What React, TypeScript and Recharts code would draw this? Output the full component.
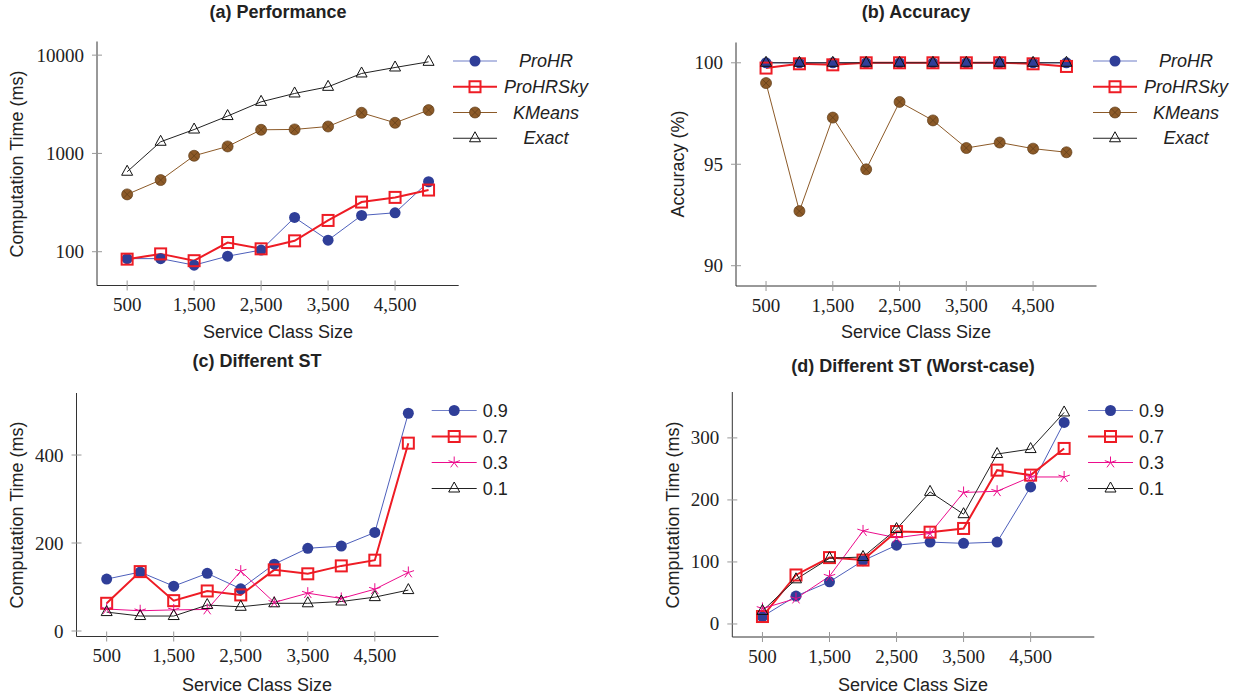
import React from 'react';
import { Legend, Line, LineChart, XAxis, YAxis } from 'recharts';

const sizes = [500, 1000, 1500, 2000, 2500, 3000, 3500, 4000, 4500, 5000];
const sizeTicks = [500, 1500, 2500, 3500, 4500];

// (a) Performance (ms, log axis)
const perfProHR = [85, 85, 73, 90, 104, 223, 131, 234, 249, 515];
const perfProHRSky = [84, 95, 81, 124, 107, 129, 208, 320, 357, 424];
const perfKMeans = [383, 536, 947, 1178, 1740, 1755, 1880, 2592, 2050, 2759];
const perfExact = [651, 1314, 1750, 2400, 3350, 4075, 4760, 6510, 7490, 8550];

// (b) Accuracy (%)
const accProHR = [100, 100, 100, 100, 100, 100, 100, 100, 100, 100];
const accProHRSky = [99.74, 99.95, 99.9, 100, 100, 100, 100, 100, 99.95, 99.82];
const accKMeans = [99.0, 92.69, 97.3, 94.75, 98.07, 97.16, 95.8, 96.07, 95.77, 95.59];
const accExact = [100, 100, 100, 100, 100, 100, 100, 100, 100, 100];

// (c) Different ST (ms)
const st09 = [118, 134, 102, 131, 96, 152, 188, 193, 224, 495];
const st07 = [63, 135, 69, 91, 82, 139, 130, 148, 161, 427];
const st03 = [50, 46, 48, 49, 136, 65, 86, 74, 95, 133];
const st01 = [43, 34, 34, 59, 55, 63, 63, 67, 77, 93];

// (d) Different ST, worst case (ms)
const worst09 = [12, 45, 68, 102, 127, 132, 130, 132, 221, 325];
const worst07 = [12, 79, 107, 103, 149, 148, 154, 248, 240, 283];
const worst03 = [25, 41, 77, 150, 139, 146, 212, 214, 237, 237];
const worst01 = [21, 72, 106, 108, 153, 213, 177, 274, 282, 341];

const SANS = '"Liberation Sans", Arial, Helvetica, sans-serif';
const SERIF = '"Liberation Serif", "Times New Roman", serif';
const TEXT = '#222';
const AXIS = '#333';
const TICK = '#999';

const BLUE_LINE = '#4d5fbb';
const BLUE_FILL = '#2f3e98';
const RED = '#ee1c25';
const BROWN = '#8c5a28';
const BROWN_DARK = '#5e3c18';
const BLACK = '#222';
const PINK = '#ec0c8c';

type Kind = 'circle' | 'square' | 'otimes' | 'triangle' | 'star';

interface Series {
  key: string;
  name: string;
  kind: Kind;
  stroke: string;
  width: number;
  fill: string;
  values: number[];
}

const Marker = ({ kind, cx, cy, stroke, fill }: { kind: Kind; cx: number; cy: number; stroke: string; fill: string }) => {
  if (kind === 'circle') return <circle cx={cx} cy={cy} r={5.5} fill={fill} />;
  if (kind === 'square')
    return <rect x={cx - 5.5} y={cy - 5.5} width={11} height={11} fill="none" stroke={stroke} strokeWidth={2} />;
  if (kind === 'otimes') {
    const d = 3.9;
    return (
      <g>
        <circle cx={cx} cy={cy} r={5.5} fill={fill} stroke={BROWN_DARK} strokeWidth={0.7} />
        <line x1={cx - d} y1={cy - d} x2={cx + d} y2={cy + d} stroke={BROWN_DARK} strokeWidth={0.7} />
        <line x1={cx - d} y1={cy + d} x2={cx + d} y2={cy - d} stroke={BROWN_DARK} strokeWidth={0.7} />
      </g>
    );
  }
  if (kind === 'triangle')
    return (
      <polygon
        points={`${cx},${cy - 6.5} ${cx - 5.5},${cy + 3.5} ${cx + 5.5},${cy + 3.5}`}
        fill="none"
        stroke="#111"
        strokeWidth={1}
      />
    );
  const arms = [0, 1, 2, 3, 4].map((k) => {
    const a = ((-90 + 72 * k) * Math.PI) / 180;
    return <line key={k} x1={cx} y1={cy} x2={cx + 6 * Math.cos(a)} y2={cy + 6 * Math.sin(a)} stroke={stroke} strokeWidth={1} />;
  });
  return <g>{arms}</g>;
};

const fmtSize = (v: number) => (v >= 1000 ? `${Math.floor(v / 1000)},${String(v % 1000).padStart(3, '0')}` : String(v));

const XTick = (props: any) => {
  const { x, y, payload } = props;
  return (
    <g>
      <line x1={x} x2={x} y1={y - 5} y2={y + 5} stroke={TICK} />
      <text x={x} y={y + 19} textAnchor="middle" dominantBaseline="central" fontFamily={SERIF} fontSize={19} fill={TEXT}>
        {fmtSize(payload.value)}
      </text>
    </g>
  );
};

const YTick = (props: any) => {
  const { x, y, payload } = props;
  return (
    <g>
      <line x1={x - 5} x2={x + 5} y1={y} y2={y} stroke={TICK} />
      <text x={x - 13} y={y} textAnchor="end" dominantBaseline="central" fontFamily={SERIF} fontSize={19} fill={TEXT}>
        {String(payload.value)}
      </text>
    </g>
  );
};

interface LegendCfg {
  left: number;
  top: number;
  lineX0: number;
  lineX1: number;
  textX: number;
  anchor: 'start' | 'middle';
  rowY0: number;
  rowStep: number;
  italic: boolean;
}

const LegendBox = ({ series, cfg }: { series: Series[]; cfg: LegendCfg }) => (
  <svg width={170} height={115} style={{ display: 'block' }}>
    {series.map((s, i) => {
      const y = cfg.rowY0 + i * cfg.rowStep;
      const mx = (cfg.lineX0 + cfg.lineX1) / 2;
      return (
        <g key={s.key}>
          <line x1={cfg.lineX0} x2={cfg.lineX1} y1={y} y2={y} stroke={s.stroke} strokeWidth={s.width} opacity={s.kind === 'circle' ? 0.8 : 1} />
          <Marker kind={s.kind} cx={mx} cy={y} stroke={s.stroke} fill={s.fill} />
          <text
            x={cfg.textX}
            y={y}
            textAnchor={cfg.anchor}
            dominantBaseline="central"
            fontFamily={SANS}
            fontSize={18}
            fontStyle={cfg.italic ? 'italic' : 'normal'}
            fill={TEXT}
          >
            {s.name}
          </text>
        </g>
      );
    })}
  </svg>
);

interface PanelProps {
  left: number;
  top: number;
  width: number;
  height: number;
  plot: { x0: number; x1: number; y0: number; y1: number };
  series: Series[];
  yDomain: [number, number];
  yTicks: number[];
  yLog?: boolean;
  legend: LegendCfg;
}

const Panel = ({ left, top, width, height, plot, series, yDomain, yTicks, yLog, legend }: PanelProps) => {
  const data = sizes.map((size, i) => {
    const row: Record<string, number> = { size };
    series.forEach((s) => {
      row[s.key] = s.values[i];
    });
    return row;
  });
  return (
    <div style={{ position: 'absolute', left, top, width, height }}>
      <LineChart
        width={width}
        height={height}
        data={data}
        margin={{ top: plot.y0 - top, right: left + width - plot.x1, bottom: 0, left: 0 }}
      >
        <XAxis
          type="number"
          dataKey="size"
          domain={[50, 5450]}
          ticks={sizeTicks}
          interval={0}
          tick={XTick}
          tickLine={false}
          tickSize={0}
          tickMargin={0}
          axisLine={{ stroke: AXIS }}
          height={top + height - plot.y1}
          allowDataOverflow
        />
        <YAxis
          type="number"
          scale={yLog ? 'log' : 'linear'}
          domain={yDomain}
          ticks={yTicks}
          interval={0}
          tick={YTick}
          tickLine={false}
          tickSize={0}
          tickMargin={0}
          axisLine={{ stroke: AXIS }}
          width={plot.x0 - left}
          allowDataOverflow
        />
        {series.map((s) => (
          <Line
            key={s.key}
            type="linear"
            dataKey={s.key}
            name={s.name}
            stroke={s.stroke}
            strokeWidth={s.width}
            activeDot={false}
            isAnimationActive={false}
            dot={(p: any) => (
              <g key={`${s.key}-${p.index}`}>
                <Marker kind={s.kind} cx={p.cx} cy={p.cy} stroke={s.stroke} fill={s.fill} />
              </g>
            )}
          />
        ))}
        <Legend
          layout="vertical"
          align="center"
          verticalAlign="middle"
          wrapperStyle={{ left: legend.left, top: legend.top, width: 170, height: 115 }}
          content={() => <LegendBox series={series} cfg={legend} />}
        />
      </LineChart>
    </div>
  );
};

const Title = ({ text, cx, cy }: { text: string; cx: number; cy: number }) => (
  <div
    style={{
      position: 'absolute',
      left: cx - 250,
      top: cy - 11,
      width: 500,
      lineHeight: '22px',
      textAlign: 'center',
      fontFamily: SANS,
      fontWeight: 'bold',
      fontSize: 18,
      color: TEXT,
    }}
  >
    {text}
  </div>
);

const AxisText = ({ text, cx, cy, rotate }: { text: string; cx: number; cy: number; rotate?: boolean }) => (
  <div
    style={{
      position: 'absolute',
      left: cx,
      top: cy,
      whiteSpace: 'nowrap',
      transform: `translate(-50%, -50%)${rotate ? ' rotate(-90deg)' : ''}`,
      fontFamily: SANS,
      fontSize: 18,
      lineHeight: '22px',
      color: TEXT,
    }}
  >
    {text}
  </div>
);

const topSeries = (a: number[], b: number[], c: number[], d: number[]): Series[] => [
  { key: 'prohr', name: 'ProHR', kind: 'circle', stroke: BLUE_LINE, width: 1, fill: BLUE_FILL, values: a },
  { key: 'prohrsky', name: 'ProHRSky', kind: 'square', stroke: RED, width: 2, fill: 'none', values: b },
  { key: 'kmeans', name: 'KMeans', kind: 'otimes', stroke: BROWN, width: 1, fill: BROWN, values: c },
  { key: 'exact', name: 'Exact', kind: 'triangle', stroke: BLACK, width: 1, fill: 'none', values: d },
];

const stSeries = (a: number[], b: number[], c: number[], d: number[]): Series[] => [
  { key: 'st09', name: '0.9', kind: 'circle', stroke: BLUE_LINE, width: 1, fill: BLUE_FILL, values: a },
  { key: 'st07', name: '0.7', kind: 'square', stroke: RED, width: 2, fill: 'none', values: b },
  { key: 'st03', name: '0.3', kind: 'star', stroke: PINK, width: 1, fill: 'none', values: c },
  { key: 'st01', name: '0.1', kind: 'triangle', stroke: BLACK, width: 1, fill: 'none', values: d },
];

const topLegend = (left: number): LegendCfg => ({
  left,
  top: 45,
  lineX0: 8,
  lineX1: 52,
  textX: 101,
  anchor: 'middle',
  rowY0: 16,
  rowStep: 25.75,
  italic: true,
});

const stLegend = (left: number, lineX0: number): LegendCfg => ({
  left,
  top: 45,
  lineX0,
  lineX1: lineX0 + 45,
  textX: lineX0 + 51,
  anchor: 'start',
  rowY0: 16.5,
  rowStep: 26,
  italic: false,
});

const App: React.FC = () => {
  return (
    <div style={{ position: 'absolute', left: 0, top: 0, width: 1233, height: 698, background: '#fff', overflow: 'hidden' }}>
      <Panel
        left={0}
        top={0}
        width={616}
        height={349}
        plot={{ x0: 97, x1: 458.7, y0: 41.5, y1: 285.5 }}
        series={topSeries(perfProHR, perfProHRSky, perfKMeans, perfExact)}
        yDomain={[45.3, 13770]}
        yTicks={[100, 1000, 10000]}
        yLog
        legend={topLegend(445)}
      />
      <Panel
        left={616}
        top={0}
        width={617}
        height={349}
        plot={{ x0: 736, x1: 1096.5, y0: 42.5, y1: 286 }}
        series={topSeries(accProHR, accProHRSky, accKMeans, accExact)}
        yDomain={[89, 101]}
        yTicks={[90, 95, 100]}
        legend={topLegend(469)}
      />
      <Panel
        left={0}
        top={349}
        width={616}
        height={349}
        plot={{ x0: 76.5, x1: 438.5, y0: 393, y1: 636.5 }}
        series={stSeries(st09, st07, st03, st01)}
        yDomain={[-12.5, 541]}
        yTicks={[0, 200, 400]}
        legend={stLegend(424, 7.7)}
      />
      <Panel
        left={616}
        top={349}
        width={617}
        height={349}
        plot={{ x0: 732.3, x1: 1094.3, y0: 392, y1: 637 }}
        series={stSeries(worst09, worst07, worst03, worst01)}
        yDomain={[-21, 374]}
        yTicks={[0, 100, 200, 300]}
        legend={stLegend(464, 8)}
      />

      <Title text="(a) Performance" cx={278} cy={12} />
      <Title text="(b) Accuracy" cx={916} cy={12} />
      <Title text="(c) Different ST" cx={257} cy={361} />
      <Title text="(d) Different ST (Worst-case)" cx={913} cy={366} />

      <AxisText text="Service Class Size" cx={278} cy={331.5} />
      <AxisText text="Service Class Size" cx={916} cy={332} />
      <AxisText text="Service Class Size" cx={257} cy={685} />
      <AxisText text="Service Class Size" cx={913} cy={685} />

      <AxisText text="Computation Time (ms)" cx={16.5} cy={163.5} rotate />
      <AxisText text="Accuracy (%)" cx={678} cy={164} rotate />
      <AxisText text="Computation Time (ms)" cx={16.5} cy={515} rotate />
      <AxisText text="Computation Time (ms)" cx={673} cy={515} rotate />
    </div>
  );
};

export default App;
